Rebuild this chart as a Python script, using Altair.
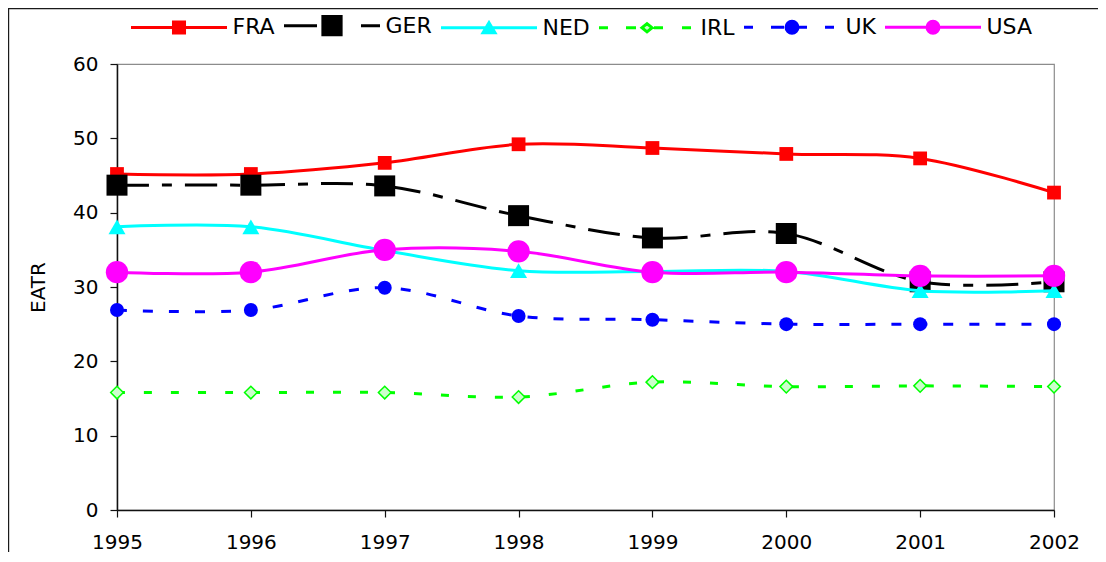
import altair as alt
import pandas as pd

years = [1995, 1996, 1997, 1998, 1999, 2000, 2001, 2002]
series_names = ["FRA", "GER", "NED", "IRL", "UK", "USA"]
fra = [45.2, 45.2, 46.7, 49.2, 48.7, 47.9, 47.3, 42.7]
ger = [43.7, 43.7, 43.6, 39.6, 36.6, 37.2, 30.7, 30.7]
ned = [38.1, 38.1, 34.9, 32.2, 32.1, 32.1, 29.5, 29.5]
irl = [15.8, 15.8, 15.8, 15.2, 17.2, 16.6, 16.7, 16.6]
uk = [26.9, 26.9, 29.9, 26.1, 25.6, 25.0, 25.0, 25.0]
usa = [32.0, 32.0, 35.0, 34.8, 32.0, 32.0, 31.5, 31.5]
y_ticks = [0, 10, 20, 30, 40, 50, 60]

values = {"FRA": fra, "GER": ger, "NED": ned, "IRL": irl, "UK": uk, "USA": usa}
rows = [{"year": y, "series": s, "eatr": v}
        for s in series_names for y, v in zip(years, values[s])]
df = pd.DataFrame(rows)

line_colors = ["#ff0000", "#000000", "#00ffff", "#00ff00", "#0000ff", "#ff00ff"]
legend_fills = ["#ff0000", "#000000", "#00ffff", "#ccffcc", "#0000ff", "#ff00ff"]

# legend symbols: line segment (+ dashes) with marker, unit = 48px
legend_shapes = [
    "M-1,0H1M-0.115,-0.115H0.115V0.115H-0.115Z",
    "M-1,0H-0.3125M0.604,0H1M-0.19,-0.19H0.19V0.19H-0.19Z",
    "M-1,0H1M0,-0.105L0.125,0.105L-0.125,0.105Z",
    "M-1,0H-0.8125M-0.4375,0H-0.229M0.146,0H0.333M0.729,0H0.917"
    "M0,-0.085L0.105,0L0,0.085L-0.105,0Z",
    "M-1,0H-0.8125M-0.4375,0H-0.167M0.146,0H0.3125M0.6875,0H0.875"
    "M0.125,0A0.125,0.125,0,1,1,-0.125,0A0.125,0.125,0,1,1,0.125,0Z",
    "M-1,0H1M0.125,0A0.125,0.125,0,1,1,-0.125,0A0.125,0.125,0,1,1,0.125,0Z",
]

styles = {
    "FRA": dict(dash=None, shape="square", size=190, fill="#ff0000", stroke="#ff0000", sw=0),
    "GER": dict(dash=[32, 13, 10, 13], shape="square", size=441, fill="#000000", stroke="#000000", sw=0),
    "NED": dict(dash=None, shape="triangle-up", size=289, fill="#00ffff", stroke="#00ffff", sw=0),
    "IRL": dict(dash=[8, 19], shape="diamond", size=160, fill="#ccffcc", stroke="#00ff00", sw=1.5),
    "UK": dict(dash=[10, 16], shape="circle", size=196, fill="#0000ff", stroke="#0000ff", sw=0),
    "USA": dict(dash=None, shape="circle", size=500, fill="#ff00ff", stroke="#ff00ff", sw=0),
}

x_enc = alt.X("year:Q",
              scale=alt.Scale(domain=[1995, 2002], nice=False, zero=False),
              axis=alt.Axis(values=years, format="d", title=None, labelPadding=15,
                            labelFlush=False))
y_enc = alt.Y("eatr:Q",
              scale=alt.Scale(domain=[0, 60], nice=False),
              axis=alt.Axis(values=y_ticks, title="EATR", labelPadding=12,
                            titlePadding=24))

base = alt.Chart(df)
layers = []

# legend-only layer (no marks drawn)
leg = alt.Legend(title=None)
layers.append(
    base.mark_point(opacity=1, strokeWidth=3).encode(
        x=x_enc, y=y_enc,
        fill=alt.Fill("series:N", scale=alt.Scale(domain=series_names, range=legend_fills), legend=leg),
        stroke=alt.Stroke("series:N", scale=alt.Scale(domain=series_names, range=line_colors), legend=leg),
        shape=alt.Shape("series:N", scale=alt.Scale(domain=series_names, range=legend_shapes), legend=leg),
    ).transform_filter("false")
)

for name, col in zip(series_names, line_colors):
    st = styles[name]
    line_kw = dict(color=col, strokeWidth=3, interpolate="cardinal")
    if st["dash"]:
        line_kw["strokeDash"] = st["dash"]
    layers.append(
        base.mark_line(**line_kw).encode(x=x_enc, y=y_enc)
        .transform_filter(alt.datum.series == name)
    )
    pt_kw = dict(shape=st["shape"], size=st["size"], fill=st["fill"], opacity=1,
                 filled=True)
    if st["sw"] > 0:
        pt_kw["stroke"] = st["stroke"]
        pt_kw["strokeWidth"] = st["sw"]
    else:
        pt_kw["strokeWidth"] = 0
    layers.append(
        base.mark_point(**pt_kw).encode(x=x_enc, y=y_enc)
        .transform_filter(alt.datum.series == name)
    )

frame_df = pd.DataFrame({"k": [0]})
left_border = alt.Chart(frame_df).mark_rule(color="#1a1a1a", strokeWidth=1.2).encode(
    x=alt.value(-108.4), y=alt.value(-56), y2=alt.value(500))
top_border = alt.Chart(frame_df).mark_rule(color="#1a1a1a", strokeWidth=1.2).encode(
    y=alt.value(-55.4), x=alt.value(-109), x2=alt.value(990))

chart = alt.layer(*layers, left_border, top_border).properties(
    width=937, height=446,
    autosize=alt.AutoSizeParams(type="none"),
    padding={"left": 109, "top": 56, "right": 44, "bottom": 42},
    background="white",
).configure_view(
    stroke="#8c8c8c", strokeWidth=1.2
).configure_axis(
    domainColor="#111111", domainWidth=1.5, tickColor="#111111", tickWidth=1.2,
    tickSize=7, grid=False, labelFont="DejaVu Sans", labelFontSize=20,
    labelColor="#000000", titleFont="DejaVu Sans", titleFontSize=20,
    titleFontWeight="normal", titleColor="#000000",
).configure_legend(
    orient="none", legendX=12.5, legendY=-88, direction="horizontal",
    symbolSize=9216, symbolStrokeWidth=3, labelFont="DejaVu Sans",
    labelFontSize=22, labelColor="#000000", labelOffset=4, columnPadding=2,
    padding=0, symbolOpacity=1,
)

chart.save("out.html", embed_options={"renderer": "svg", "actions": False})
